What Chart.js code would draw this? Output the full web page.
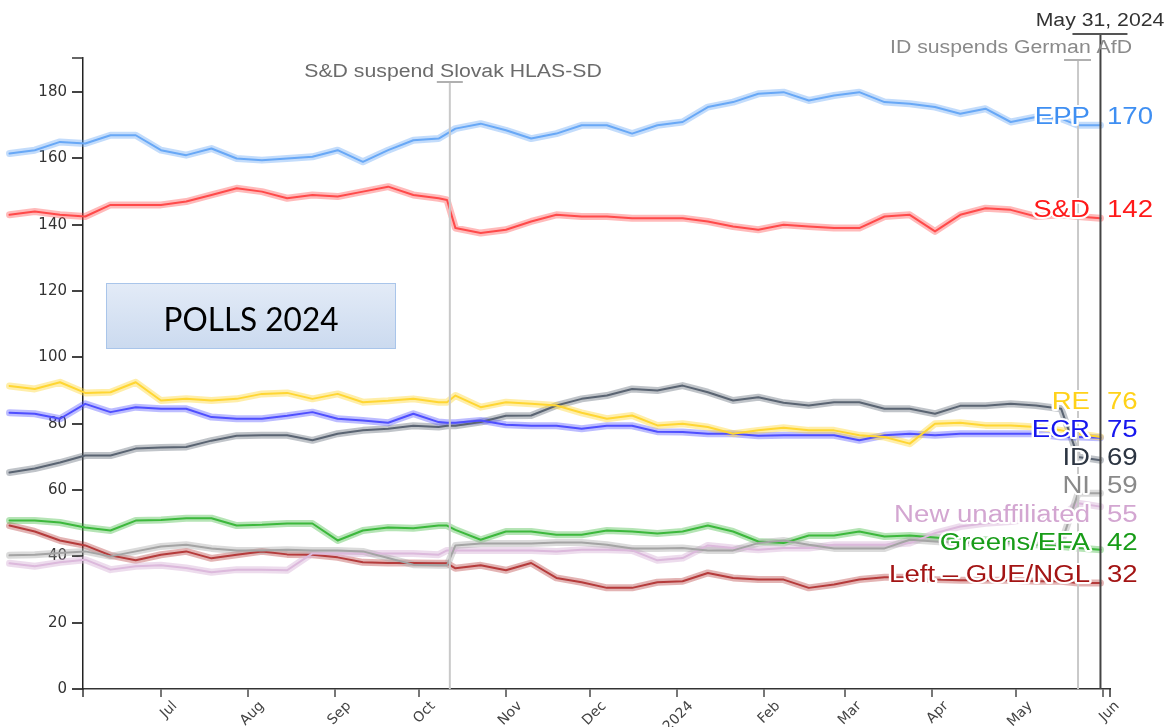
<!DOCTYPE html>
<html lang="en">
<head>
<meta charset="utf-8">
<title>European Parliament polls 2024</title>
<script src="https://cdn.jsdelivr.net/npm/chart.js@4.4.1/dist/chart.umd.min.js"></script>
<style>
  html, body { margin: 0; padding: 0; background: #fff; }
  #wrap { width: 1166px; height: 727px; }
</style>
</head>
<body>
<div id="wrap"><canvas id="chart" width="1166" height="727"></canvas></div>
<script>
// Days counted from 1 Jul 2023 (negative = before July)
const days = [-54, -45, -36, -27, -18, -9, 0, 9, 18, 27, 36, 45, 54, 63, 72, 81, 90, 99, 102, 105,
  114, 123, 132, 141, 150, 159, 168, 177, 186, 195, 204, 213, 222, 231, 240, 249, 258, 267, 276,
  285, 294, 303, 312, 321, 327, 335];

// Projected seats per group
const epp = [161.5, 162.5, 165, 164.5, 167, 167, 162.5, 161, 163, 160, 159.5, 160, 160.5, 162.5, 159, 162.5,
  165.5, 166, 167.5, 169, 170.5, 168.5, 166, 167.5, 170, 170, 167.5, 170, 171, 175.5, 177, 179.5, 180,
  177.5, 179, 180, 177, 176.5, 175.5, 173.5, 175, 171, 172.5, 172, 170, 170];
const sd = [143, 144, 143, 142.5, 146, 146, 146, 147, 149, 151, 150, 148, 149, 148.5, 150, 151.5, 149, 148,
  147.5, 139, 137.5, 138.5, 141, 143, 142.5, 142.5, 142, 142, 142, 141, 139.5, 138.5, 140, 139.5, 139,
  139, 142.5, 143, 138, 143, 145, 144.5, 142.5, 143, 142.5, 142];
const re = [91.4, 90.5, 92.5, 89.3, 89.5, 92.5, 87, 87.5, 87, 87.5, 89, 89.3, 87.5, 89, 86.5, 86.9, 87.5,
  86.5, 86.5, 88.5, 85, 86.5, 86, 85.5, 83.3, 81.5, 82.5, 79.5, 80, 79, 77, 78, 78.8, 78, 78, 76.5, 76,
  74, 80, 80.3, 79.5, 79.5, 79, 78, 77, 76];
const ecr = [83.3, 83, 81.5, 86, 83.5, 85, 84.5, 84.5, 82, 81.5, 81.5, 82.4, 83.5, 81.5, 81, 80.3, 83, 80.5,
  80.3, 80.3, 81, 79.7, 79.4, 79.4, 78.5, 79.4, 79.4, 77.6, 77.5, 77, 77, 76.4, 76.5, 76.5, 76.5, 75,
  76.5, 77, 76.5, 77, 77, 77, 77, 76, 76, 75.8];
const id = [65.3, 66.5, 68.3, 70.4, 70.4, 72.5, 72.8, 73, 74.9, 76.4, 76.5, 76.5, 75, 77, 78, 78.5, 79.4, 79,
  79.4, 79.4, 80.5, 82.4, 82.5, 85.5, 87.5, 88.5, 90.5, 90, 91.5, 89.5, 87, 88, 86.3, 85.5, 86.5, 86.5,
  84.5, 84.5, 83, 85.4, 85.4, 86, 85.5, 84.5, 70, 69];
const ni = [40.3, 40.5, 41, 41.5, 40, 41.5, 43, 43.5, 42.4, 41.8, 41.8, 42, 41.8, 41.8, 41.5, 39.5, 37.5,
  37.3, 37.3, 43.3, 43.9, 43.9, 43.9, 44.2, 44.2, 43.5, 42.4, 42.4, 42.5, 41.8, 41.8, 44, 44.8, 43.5,
  42.4, 42.4, 42.4, 45, 44.5, 44, 44, 44, 44, 44, 59, 59];
const newUnaffiliated = [37.9, 37, 38.2, 39, 36, 37, 37.3, 36.5, 35.2, 36, 36, 35.8, 40.9, 40.9, 40.9, 40.9,
  40.9, 40.5, 41.8, 41.8, 41.8, 41.8, 41.8, 41.5, 42, 42, 41.8, 38.8, 39.5, 43.3, 42.5, 42, 42.5, 42.5,
  43.5, 43.5, 43.5, 44, 47, 49, 50, 50.5, 51.5, 52, 56, 55];
const greens = [50.8, 50.8, 50.2, 48.7, 47.8, 50.8, 51, 51.5, 51.5, 49.3, 49.5, 49.9, 49.9, 44.8, 47.8, 48.7,
  48.5, 49.3, 49.3, 48, 45, 47.5, 47.5, 46.5, 46.5, 47.8, 47.5, 46.9, 47.5, 49.3, 47.5, 44.5, 44, 46.3,
  46.3, 47.5, 46, 46.3, 45.7, 45, 45, 44.5, 43.5, 43, 42.5, 42];
const left = [49.3, 47.5, 44.8, 43.3, 40.3, 38.8, 40.5, 41.5, 39.4, 40.5, 41.5, 40.6, 40.5, 39.7, 38.2, 38,
  38, 37.9, 37.9, 36.4, 37.3, 35.8, 38, 33.5, 32.2, 30.5, 30.5, 32.2, 32.5, 35, 33.5, 33, 33, 30.5, 31.5,
  33, 33.7, 33.7, 33, 32.8, 32.8, 32.8, 32.5, 32.5, 32, 32];

const groups = ['EPP', 'S&D', 'RE', 'ECR', 'ID', 'NI', 'New unaffiliated', 'Greens/EFA', 'Left – GUE/NGL'];
const seats = [170, 142, 76, 75, 69, 59, 55, 42, 32];

const monthTicks = [0, 31, 62, 92, 123, 153, 184, 215, 244, 275, 305, 336];
const monthLabels = ['Jul', 'Aug', 'Sep', 'Oct', 'Nov', 'Dec', '2024', 'Feb', 'Mar', 'Apr', 'May', 'Jun'];
const seatTicks = [0, 20, 40, 60, 80, 100, 120, 140, 160, 180];

const eventDays = [103, 327, 335];
const eventLabels = ['S&D suspend Slovak HLAS-SD', 'ID suspends German AfD', 'May 31, 2024'];

const series = [epp, sd, re, ecr, id, ni, newUnaffiliated, greens, left];
const lineColors = ['#68a8f6', '#ff4a4a', '#ffd633', '#4f4fff', '#5a6472', '#a4a4a4', '#dcb9dc', '#3cb83c', '#b53b3b'];
const haloColors = ['rgba(104,168,246,0.4)', 'rgba(255,74,74,0.38)', 'rgba(255,214,51,0.42)', 'rgba(79,79,255,0.38)',
  'rgba(90,100,114,0.38)', 'rgba(164,164,164,0.4)', 'rgba(220,185,220,0.5)', 'rgba(60,184,60,0.38)', 'rgba(181,59,59,0.38)'];
const labelColors = ['#3f8ff2', '#ff1a1a', '#ffd21a', '#1717ee', '#2c3542', '#8a8a8a', '#d3a6d1', '#189c18', '#a31414'];

const datasets = [];
series.forEach((values, i) => {
  const points = days.map((d, j) => ({ x: d, y: values[j] }));
  const common = { pointRadius: 0, tension: 0, clip: false, borderJoinStyle: 'round', borderCapStyle: 'round' };
  datasets.push({ ...common, label: groups[i], data: points, borderColor: lineColors[i], borderWidth: 2, order: 0 });
  datasets.push({ ...common, label: groups[i] + ' halo', data: points.map(p => ({ ...p })), borderColor: haloColors[i], borderWidth: 7, order: 1 });
});

// text drawn a little wider, like the source screenshot
const drawText = (ctx, text, px, py, align, sx, halo) => {
  ctx.save();
  ctx.translate(px, py);
  ctx.scale(sx, 1);
  ctx.textAlign = align;
  ctx.textBaseline = 'alphabetic';
  if (halo) {
    ctx.strokeStyle = '#fff';
    ctx.lineWidth = 4;
    ctx.lineJoin = 'round';
    ctx.strokeText(text, 0, 0);
  }
  ctx.fillText(text, 0, 0);
  ctx.restore();
};

const line = (ctx, x1, y1, x2, y2, color, width) => {
  ctx.beginPath();
  ctx.moveTo(x1, y1);
  ctx.lineTo(x2, y2);
  ctx.strokeStyle = color;
  ctx.lineWidth = width;
  ctx.stroke();
};

const overlay = {
  id: 'overlay',
  afterDatasetsDraw(chart) {
    const { ctx, scales: { x }, chartArea } = chart;
    const bottom = chartArea.bottom;
    ctx.save();
    // event markers
    const tops = [82, 60, 34];
    const styles = [['#c9c9c9', '#b0b0b0'], ['#c9c9c9', '#b0b0b0'], ['#444', '#555']];
    const caps = [[13, 13], [14, 13], [28, 27]];
    eventDays.forEach((d, i) => {
      const px = x.getPixelForValue(d);
      line(ctx, px, tops[i], px, bottom, styles[i][0], 2);
      line(ctx, px - caps[i][0], tops[i], px + caps[i][1], tops[i], styles[i][1], 2);
    });
    // axis end caps
    line(ctx, chartArea.left - 11, chartArea.top, chartArea.left, chartArea.top, '#333', 1.5);
    line(ctx, chartArea.left, bottom, chartArea.left, bottom + 8, '#333', 1.5);
    line(ctx, chartArea.right, bottom, chartArea.right, bottom + 8, '#333', 1.5);
    ctx.restore();
  },
  afterDraw(chart) {
    const { ctx } = chart;
    ctx.save();

    // event captions
    ctx.font = '18px "Liberation Sans", Arial, sans-serif';
    ctx.fillStyle = '#6b6b6b';
    drawText(ctx, eventLabels[0], 453, 77, 'center', 1.18, false);
    ctx.fillStyle = '#8a8a8a';
    drawText(ctx, eventLabels[1], 1011, 53, 'center', 1.18, false);
    ctx.fillStyle = '#333';
    drawText(ctx, eventLabels[2], 1100, 26, 'center', 1.18, false);

    // end labels
    const baselines = [124, 217, 409, 437, 465, 493, 522, 550, 582];
    ctx.font = '23px "Liberation Sans", Arial, sans-serif';
    groups.forEach((g, i) => {
      ctx.fillStyle = labelColors[i];
      drawText(ctx, g, 1090, baselines[i], 'right', 1.2, true);
      drawText(ctx, String(seats[i]), 1107, baselines[i], 'left', 1.2, true);
    });

    // title box
    const bx = 106, by = 283, bw = 290, bh = 66;
    const grad = ctx.createLinearGradient(0, by, 0, by + bh);
    grad.addColorStop(0, '#e3ebf7');
    grad.addColorStop(1, '#cbdaef');
    ctx.fillStyle = grad;
    ctx.fillRect(bx, by, bw, bh);
    ctx.strokeStyle = '#a9c5ea';
    ctx.lineWidth = 1;
    ctx.strokeRect(bx + 0.5, by + 0.5, bw - 1, bh - 1);
    ctx.font = '33px Lato, "Open Sans", sans-serif';
    ctx.fillStyle = '#000';
    const w = ctx.measureText('POLLS 2024').width;
    drawText(ctx, 'POLLS 2024', bx + bw / 2, 331, 'center', 175 / w, false);

    ctx.restore();
  }
};

const ctx = document.getElementById('chart').getContext('2d');

new Chart(ctx, {
  type: 'line',
  data: { datasets },
  plugins: [overlay],
  options: {
    responsive: false,
    animation: false,
    devicePixelRatio: 1,
    events: [],
    layout: { padding: { top: 58, right: 56, bottom: 0, left: 0 } },
    plugins: { legend: { display: false }, tooltip: { enabled: false } },
    scales: {
      x: {
        type: 'linear',
        bounds: 'data',
        // range set here (not as min/max options) so points before the y axis are still drawn
        afterDataLimits: (scale) => { scale.min = -27.8; scale.max = 338.4; },
        afterBuildTicks: (scale) => { scale.ticks = monthTicks.map(v => ({ value: v })); },
        afterFit: (scale) => { scale.height = 38; },
        grid: { drawOnChartArea: false, tickLength: 8, color: '#777', lineWidth: 2 },
        border: { color: '#333', width: 1.5 },
        ticks: {
          autoSkip: false,
          minRotation: 45,
          maxRotation: 45,
          labelOffset: 14,
          padding: 1,
          color: '#444',
          font: { family: 'DejaVu Sans', size: 14 },
          callback: (v, i) => monthLabels[i]
        }
      },
      y: {
        min: 0,
        max: 190.3,
        afterBuildTicks: (scale) => { scale.ticks = seatTicks.map(v => ({ value: v })); },
        afterFit: (scale) => { scale.width = 83; },
        grid: { drawOnChartArea: false, tickLength: 11, color: '#444', lineWidth: 2 },
        border: { color: '#222', width: 1.5 },
        ticks: {
          padding: 5,
          color: '#333',
          font: { family: 'DejaVu Sans', size: 15 },
          callback: (v) => v
        }
      }
    }
  }
});
</script>
</body>
</html>
